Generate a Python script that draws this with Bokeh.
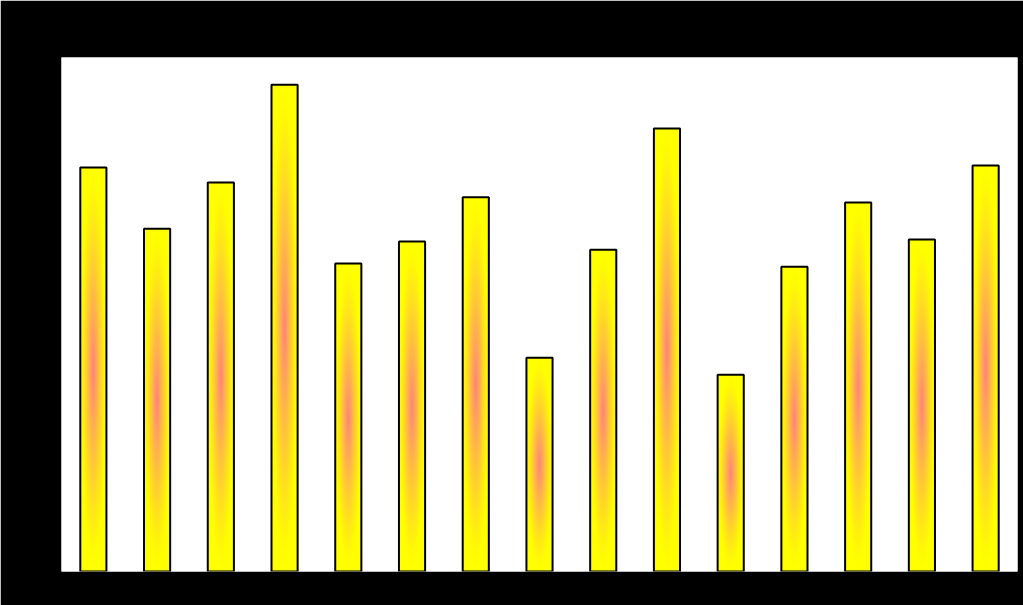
from bokeh.plotting import figure
from bokeh.models import Range1d, FactorRange, ColumnDataSource
from bokeh.embed import file_html
from bokeh.resources import INLINE

categories = ["A", "B", "C", "D", "E", "F", "G", "H", "I", "J", "K", "L", "M", "N", "O"]
values = [78.6, 66.7, 75.7, 94.7, 59.9, 64.2, 72.8, 41.6, 62.6, 86.2, 38.3, 59.3, 71.8, 64.6, 79.0]

BAR_W = 0.41
EDGE = (255, 255, 0)
CENTER = (255, 128, 128)

p = figure(x_range=FactorRange(*categories), y_range=Range1d(0, 100),
           width=1023, height=605, output_backend="svg", toolbar_location=None,
           min_border_left=61, min_border_top=57, min_border_right=6, min_border_bottom=34)
p.border_fill_color = "#000000"
p.background_fill_color = "#ffffff"
p.outline_line_color = None
p.xgrid.visible = False
p.ygrid.visible = False
p.xaxis.visible = False
p.yaxis.visible = False

# base yellow bars
p.vbar(x=categories, top=values, width=BAR_W, fill_color="#ffff00", line_color=None)

# simulated radial gradient: concentric ellipses from edge (yellow) to centre (pink)
steps = 40
xs, ys, ws, hs, cs = [], [], [], [], []
for i in range(steps):
    f = 1.0 - i / steps
    t = (1.0 - f) ** 1.25
    col = tuple(int(round(EDGE[k] + (CENTER[k] - EDGE[k]) * t)) for k in range(3))
    hexcol = "#%02x%02x%02x" % col
    for c, v in zip(categories, values):
        xs.append(c)
        ys.append(v / 2.0)
        ws.append(BAR_W * f)
        hs.append(v * f)
        cs.append(hexcol)
src = ColumnDataSource(dict(x=xs, y=ys, w=ws, h=hs, c=cs))
p.ellipse(x="x", y="y", width="w", height="h", fill_color="c", line_color=None, source=src)

# outlines
p.vbar(x=categories, top=values, width=BAR_W, fill_color=None, line_color="#000000", line_width=2)

html = file_html(p, INLINE)
html = html.replace("<body>", '<body style="margin:0;background:#000000;overflow:hidden">', 1)
open("out.html", "w").write(html)
